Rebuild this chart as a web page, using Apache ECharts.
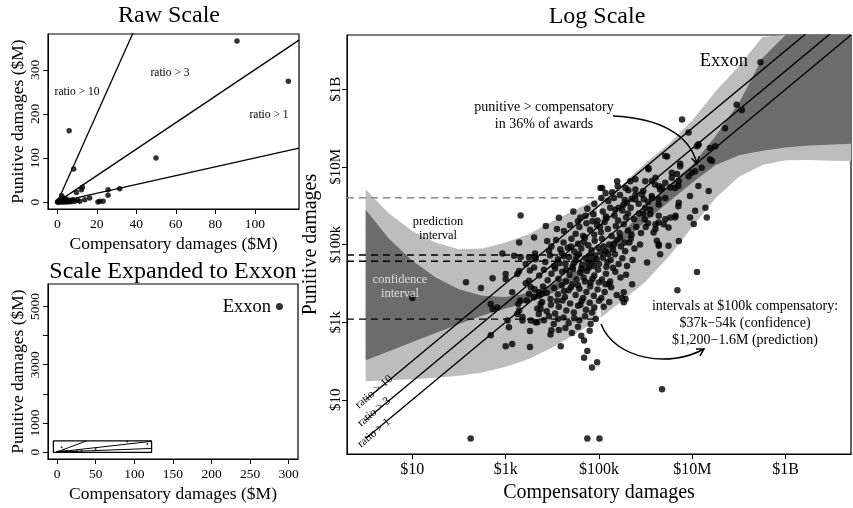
<!DOCTYPE html>
<html lang="en">
<head>
<meta charset="UTF-8">
<title>Punitive vs compensatory damages</title>
<script src="https://cdn.jsdelivr.net/npm/echarts@6/dist/echarts.min.js"></script>
<style>
  html, body { margin: 0; padding: 0; background: #fff; }
  #main { width: 853px; height: 508px; }
</style>
</head>
<body>
<div id="main"></div>
<script>
// raw scale awards: [compensatory $M, punitive $M]
var rawAwards = [
  [0.1, 0.2], [0.3, 1.2], [0.5, 0.4], [0.8, 2.5], [1.0, 0.8], [1.2, 5], [1.5, 1.5], [1.8, 0.3],
  [2.0, 3.5], [2.2, 14.7], [2.4, 1], [2.8, 6], [2.9, 9.5], [3.2, 0.6], [3.5, 2.5], [3.8, 4.5],
  [4.2, 1.2], [4.5, 7], [5, 0.5], [5.3, 3], [5.8, 1.5], [6.3, 4.1], [6.8, 0.8], [7.2, 2.2],
  [7.8, 5.5], [8.8, 1.8], [9.7, 22], [10.3, 4.5], [11.4, 1.8], [12.2, 28.3], [12.7, 33.5],
  [13.9, 5.7], [16.4, 9.5], [20.6, 0.3], [21.5, 1.8], [23.2, 1.8], [25.7, 15.4], [25.7, 28.3],
  [31.6, 30.6], [8.3, 75], [6, 162], [50, 100], [91, 365], [117, 274]
];
var exxon = [288, 5000]; // $M

// log scale awards: [log10 compensatory $, log10 punitive $]
var logAwards = [
  [8.46, 9.70],
  [2.25, 0.0], [4.75, 0.0], [5.01, 0.0], [6.35, 1.27], [7.1, 4.29], [6.68, 3.82],
  [5.53, 3.51], [5.57, 3.6], [5.49, 3.62], [5.14, 3.98], [5.21, 3.98], [5.53, 3.77], [5.71, 3.98],
  [4.68, 2.53], [4.75, 2.26], [4.68, 2.08], [4.96, 1.97], [4.85, 1.83],
  [3.0, 2.38], [3.14, 2.44], [3.52, 2.36], [4.18, 2.38], [3.52, 2.77], [3.98, 2.79], [4.14, 2.8],
  [3.96, 2.68], [3.07, 2.87], [2.68, 2.66], [1.0, 3.62],
  [2.15, 4.03], [2.47, 3.88], [2.72, 4.13], [3.0, 4.24], [3.0, 4.11], [3.32, 5.75],
  [2.93, 4.77], [3.18, 4.71], [3.32, 4.67], [3.5, 4.67], [3.63, 4.77], [3.63, 4.67],
  [2.68, 3.47], [2.72, 3.34], [2.82, 3.38],
  [3.04, 3.04], [3.25, 3.21], [3.29, 3.3], [3.36, 3.04], [3.36, 3.13], [3.54, 3.04], [3.64, 3.0],
  [3.68, 3.0], [3.71, 3.21], [3.75, 3.34],
  [3.27, 3.47], [3.31, 3.56], [3.45, 3.56], [3.5, 3.73], [3.54, 3.9], [3.61, 3.64], [3.71, 3.77],
  [3.75, 3.47], [3.78, 3.73],
  [3.14, 3.77], [3.25, 4.24], [3.43, 4.5], [3.43, 4.0], [3.52, 4.33],
  [3.86, 5.48], [4.14, 5.69], [3.61, 5.18], [3.29, 5.05], [3.29, 4.32], [3.5, 4.07], [3.64, 4.62],
  [3.89, 5.09], [3.93, 4.84], [3.61, 4.41],
  [6.78, 8.22], [6.92, 7.89], [7.7, 8.0], [7.95, 8.6], [8.06, 8.47], [7.1, 7.53], [7.13, 7.58],
  [7.38, 7.49], [7.49, 7.53], [6.42, 7.28], [6.74, 7.02], [7.38, 7.19], [7.2, 6.98], [7.06, 6.89],
  [6.99, 6.85], [6.92, 6.76], [7.13, 6.51], [7.35, 6.38], [6.95, 6.25], [6.7, 5.99], [7.06, 5.87],
  [7.31, 5.7], [6.95, 5.7], [7.03, 5.53], [6.63, 5.7], [6.42, 5.65], [6.28, 5.57], [6.49, 5.44],
  [6.21, 5.4], [6.17, 5.31], [6.24, 5.1], [6.28, 4.97], [6.03, 4.54], [6.06, 6.94], [6.56, 6.85],
  [6.7, 6.51], [6.13, 6.64], [6.28, 6.51], [6.35, 6.47], [6.53, 6.47], [5.96, 6.17], [6.13, 6.25],
  [6.28, 6.17], [6.46, 7.27], [6.06, 6.97], [7.13, 7.57], [7.42, 7.15], [6.63, 6.46], [6.42, 6.59],
  [6.71, 6.63], [6.56, 6.72], [6.21, 6.72], [6.31, 6.42], [5.99, 6.63], [5.78, 6.68], [5.39, 6.63],
  [5.57, 6.46], [5.78, 6.42], [5.92, 6.29], [6.14, 6.2], [6.28, 6.03], [6.42, 6.2], [5.99, 5.95],
  [6.1, 5.78], [6.28, 5.74], [6.39, 5.52], [6.21, 5.52], [5.78, 6.16], [5.6, 6.08], [5.42, 5.95],
  [5.14, 6.33], [5.07, 6.46], [5.32, 6.2], [4.71, 5.74], [6.28, 5.0], [6.49, 4.97], [6.71, 5.09],
  [6.31, 4.75], [5.03, 6.46], [5.67, 6.63], [6.2, 6.55], [6.74, 7.08], [6.67, 6.82], [7.28, 5.95],
  [6.71, 6.08], [6.64, 5.74], [6.53, 5.7],
  [4.9, 6.05], [5.05, 6.2], [5.2, 6.12], [5.28, 6.35], [5.45, 6.28], [5.52, 6.02], [5.63, 6.4],
  [5.7, 6.18], [5.85, 6.05], [5.95, 6.38], [6.05, 6.1], [5.4, 6.5],
  [4.6, 5.7], [4.75, 5.92], [4.88, 5.78], [4.97, 5.62], [5.08, 5.85], [5.16, 5.68], [5.24, 5.95],
  [5.33, 5.75], [5.41, 5.62], [5.5, 5.88], [5.58, 5.7], [5.68, 5.95], [5.75, 5.66], [5.86, 5.8],
  [5.98, 5.65], [6.1, 5.9], [4.45, 5.85],
  [4.25, 5.35], [4.38, 5.5], [4.5, 5.28], [4.58, 5.45], [4.66, 5.22], [4.73, 5.55], [4.81, 5.38],
  [4.9, 5.25], [4.96, 5.5], [5.04, 5.32], [5.12, 5.58], [5.19, 5.4], [5.27, 5.22], [5.36, 5.48],
  [5.44, 5.3], [5.53, 5.52], [5.62, 5.36], [5.7, 5.25], [5.8, 5.45], [5.9, 5.3], [6.0, 5.45], [4.1, 5.4],
  [3.98, 4.95], [4.08, 5.12], [4.17, 4.88], [4.24, 5.05], [4.33, 4.92], [4.41, 5.15], [4.47, 4.82],
  [4.55, 5.02], [4.62, 4.9], [4.7, 5.18], [4.77, 4.98], [4.84, 4.85], [4.91, 5.1], [4.99, 4.92],
  [5.06, 5.15], [5.14, 4.82], [5.22, 5.0], [5.3, 4.88], [5.38, 5.12], [5.47, 4.95], [5.56, 4.83],
  [5.65, 5.05], [5.76, 4.9], [5.88, 5.0],
  [3.85, 4.55], [3.95, 4.72], [4.04, 4.45], [4.12, 4.62], [4.2, 4.78], [4.28, 4.5], [4.36, 4.68],
  [4.43, 4.42], [4.5, 4.6], [4.57, 4.75], [4.64, 4.48], [4.71, 4.65], [4.78, 4.4], [4.85, 4.58],
  [4.92, 4.72], [5.0, 4.5], [5.08, 4.66], [5.16, 4.43], [5.25, 4.6], [5.34, 4.75], [5.42, 4.5],
  [5.5, 4.65], [5.6, 4.45], [5.72, 4.6],
  [3.72, 4.2], [3.82, 4.35], [3.9, 4.08], [3.98, 4.25], [4.06, 4.38], [4.13, 4.12], [4.21, 4.3],
  [4.29, 4.05], [4.37, 4.22], [4.44, 4.36], [4.52, 4.1], [4.6, 4.28], [4.67, 4.15], [4.74, 4.32],
  [4.82, 4.02], [4.9, 4.2], [4.98, 4.35], [5.06, 4.1], [5.15, 4.25], [5.24, 4.05], [5.35, 4.3],
  [5.46, 4.15], [5.58, 4.22],
  [3.62, 3.85], [3.72, 3.68], [3.8, 3.92], [3.88, 3.75], [3.96, 3.6], [4.04, 3.88], [4.12, 3.72],
  [4.2, 3.95], [4.27, 3.65], [4.35, 3.82], [4.43, 3.98], [4.5, 3.7], [4.58, 3.86], [4.66, 3.62],
  [4.73, 3.78], [4.81, 3.92], [4.89, 3.68], [4.97, 3.84], [5.05, 3.62], [5.12, 3.78], [5.26, 3.9],
  [5.38, 3.7],
  [3.68, 3.35], [3.78, 3.52], [3.88, 3.28], [3.97, 3.45], [4.06, 3.22], [4.14, 3.4], [4.22, 3.56],
  [4.3, 3.3], [4.38, 3.48], [4.46, 3.25], [4.55, 3.42], [4.63, 3.55], [4.72, 3.32], [4.8, 3.5],
  [4.9, 3.38], [5.0, 3.55], [5.1, 3.4], [5.22, 3.52],
  [3.82, 3.05], [3.93, 3.15], [4.03, 2.95], [4.12, 3.08], [4.24, 3.12], [4.35, 2.98], [4.47, 3.1],
  [4.58, 3.05], [4.7, 3.15], [4.82, 2.95], [4.93, 3.08],
  [4.28, 2.85], [4.42, 2.72], [4.55, 2.88], [4.8, 2.78], [4.62, 2.65],
  [4.4, 4.95], [4.52, 4.7], [4.68, 5.05], [4.8, 4.72], [4.95, 4.62], [5.1, 4.95], [5.2, 4.75],
  [5.32, 5.02], [5.45, 5.18], [5.55, 5.05], [4.3, 4.35], [4.46, 4.52], [4.62, 4.38], [4.76, 4.55],
  [4.88, 4.45], [5.03, 4.8], [5.18, 4.55], [5.3, 4.4], [4.15, 4.52], [4.25, 4.7], [4.55, 3.95],
  [4.7, 4.05], [4.86, 4.12], [5.0, 4.02], [4.4, 3.9], [4.25, 3.8], [4.1, 3.55], [4.6, 3.45],
  [4.85, 3.25], [5.15, 5.72], [5.35, 5.9], [5.62, 5.8], [5.02, 5.45], [4.86, 5.6], [4.55, 5.6],
  [5.78, 6.28], [5.55, 6.15], [5.95, 5.8], [6.05, 5.55], [5.68, 5.15]
];

// fitted bands, log10 $, read at these log10 compensatory values
var bandX     = [0, 0.5, 1, 1.5, 2, 2.5, 3, 3.5, 4, 4.5, 5, 5.5, 6, 6.5, 7, 7.5, 8, 8.5, 9, 9.5, 10, 10.4];
var predLow   = [1.48, 1.5, 1.53, 1.57, 1.62, 1.7, 1.85, 2.05, 2.35, 2.7, 3.08, 3.55, 4.05, 4.7, 5.45, 6.2, 6.75, 7.05, 7.17, 7.18, 7.16, 7.15];
var predHigh  = [6.42, 5.8, 5.35, 5.05, 4.88, 4.9, 5.05, 5.27, 5.6, 5.9, 6.2, 6.55, 7.1, 7.6, 8.2, 8.95, 9.6, 10.35, 11, 11.6, 12.2, 12.6];
var confLow   = [2.02, 2.25, 2.49, 2.72, 2.95, 3.17, 3.35, 3.52, 3.75, 4.1, 4.57, 5.05, 5.6, 6.1, 6.6, 7.05, 7.3, 7.42, 7.5, 7.55, 7.58, 7.6];
var confHigh  = [5.9, 5.15, 4.58, 4.15, 3.85, 3.68, 3.65, 3.75, 3.98, 4.3, 4.73, 5.3, 5.95, 6.55, 7.05, 7.8, 8.65, 9.8, 10.5, 11, 11.5, 12];

var ratios = [1, 3, 10];
var ratioNames = ['ratio > 1', 'ratio > 3', 'ratio > 10'];

// intervals at $100k compensatory
var compAt = 100000;
var confInt = [37000, 54000];
var predInt = [1200, 1600000];

var logTicks = [1, 3, 5, 7, 9];
var logTickLabels = ['$10', '$1k', '$100k', '$10M', '$1B'];
var rawXTicks = [0, 20, 40, 60, 80, 100];
var rawYTicks = [0, 100, 200, 300];
var bigXTicks = [0, 50, 100, 150, 200, 250, 300];
var bigYTicks = [0, 1000, 2000, 3000, 4000, 5000];
var bigYLabels = [0, 1000, 3000, 5000];

var FONT = '"Liberation Serif", "DejaVu Serif", serif';
var rawRange = { x: [-4.7, 122.4], y: [-15.5, 381] };
var bigRange = { x: [-11.7, 312], y: [-240, 5770] };
var logRange = { x: [-0.4, 10.4], y: [-0.4, 10.4] };

var chart = echarts.init(document.getElementById('main'));

function plainFmt(v) { return String(v); }

function valAxis(grid, range, ticks, labels, size, name, gap, isY, fmt, margin) {
  return {
    type: 'value', gridIndex: grid, min: range[0], max: range[1],
    name: name, nameLocation: 'middle', nameGap: gap,
    nameTextStyle: { fontFamily: FONT, fontSize: grid === 2 ? 20 : 17.5, color: '#000' },
    axisLine: { show: true, onZero: false, lineStyle: { color: '#000', width: 1 } },
    axisTick: { show: true, length: 5, customValues: ticks, lineStyle: { color: '#000' } },
    axisLabel: {
      customValues: labels, rotate: isY ? 90 : 0, margin: margin || (isY ? 6 : 8),
      fontFamily: FONT, fontSize: size, color: '#000', formatter: fmt || plainFmt
    },
    splitLine: { show: false }
  };
}

function logFmt(v) {
  var i = logTicks.indexOf(v);
  return i < 0 ? '' : logTickLabels[i];
}

function log10(v) { return Math.log(v) / Math.LN10; }

function band(lo, hi, color, z) {
  return {
    type: 'custom', xAxisIndex: 2, yAxisIndex: 2, clip: true, silent: true, z: z,
    data: [[0, 0]],
    renderItem: function (params, api) {
      var pts = [];
      for (var i = 0; i < bandX.length; i++) {
        pts.push(api.coord([bandX[i], Math.min(hi[i], logRange.y[1])]));
      }
      for (var j = bandX.length - 1; j >= 0; j--) {
        pts.push(api.coord([bandX[j], Math.min(lo[j], logRange.y[1])]));
      }
      return { type: 'polygon', shape: { points: pts }, style: { fill: color } };
    }
  };
}

function lineSeries(xi, data, style, z) {
  return {
    type: 'line', xAxisIndex: xi, yAxisIndex: xi, data: data, symbol: 'none',
    clip: true, silent: true, z: z || 3, lineStyle: style, animation: false
  };
}

var series = [];

// raw scale panel
ratios.forEach(function (r) {
  series.push(lineSeries(0, [[0, 0], [rawRange.x[1], rawRange.x[1] * r]], { color: '#000', width: 1.3 }));
});
series.push({
  type: 'scatter', xAxisIndex: 0, yAxisIndex: 0, data: rawAwards,
  symbolSize: 5.5, itemStyle: { color: '#000' }, z: 4
});

// expanded panel: box of the raw panel plus its contents
series.push(lineSeries(1, [
  [rawRange.x[0], rawRange.y[0]], [rawRange.x[1], rawRange.y[0]],
  [rawRange.x[1], rawRange.y[1]], [rawRange.x[0], rawRange.y[1]], [rawRange.x[0], rawRange.y[0]]
], { color: '#000', width: 1.3 }));
ratios.forEach(function (r) {
  var xe = Math.min(rawRange.x[1], rawRange.y[1] / r);
  series.push(lineSeries(1, [[0, 0], [xe, xe * r]], { color: '#000', width: 1 }));
});
series.push({
  type: 'scatter', xAxisIndex: 1, yAxisIndex: 1, data: rawAwards,
  symbolSize: 2, itemStyle: { color: '#000' }, z: 4
});
series.push({
  type: 'scatter', xAxisIndex: 1, yAxisIndex: 1, data: [exxon],
  symbolSize: 7, itemStyle: { color: '#000' }, z: 4
});

// log scale panel
series.push(band(predLow, predHigh, '#bdbdbd', 1));
series.push(band(confLow, confHigh, '#6c6c6c', 1));
var lc = log10(compAt);
[[log10(predInt[1]), '#8a8a8a'], [log10(confInt[1]), '#000'], [log10(confInt[0]), '#000'], [log10(predInt[0]), '#000']]
  .forEach(function (d) {
    series.push(lineSeries(2, [[logRange.x[0], d[0]], [lc, d[0]]], { color: d[1], width: 1.4, type: [7, 5] }, 2));
  });
series.push(lineSeries(2, [[lc, log10(predInt[0])], [lc, log10(predInt[1])]],
  { color: 'rgba(238,238,238,0.85)', width: 4 }, 2));
series.push({
  type: 'scatter', xAxisIndex: 2, yAxisIndex: 2, data: logAwards,
  symbolSize: 6.5, itemStyle: { color: '#000' }, z: 3, clip: true
});
ratios.forEach(function (r) {
  var lr = log10(r);
  series.push(lineSeries(2, [[0, lr], [logRange.x[1], logRange.x[1] + lr]], { color: '#000', width: 1.4 }, 4));
});

function txt(x, y, s, size, opts) {
  opts = opts || {};
  return {
    type: 'text', x: x, y: y, z: 100, rotation: opts.rot || 0,
    style: {
      text: s, fontFamily: FONT, fontSize: size, fill: opts.color || '#000',
      align: opts.align || 'center', verticalAlign: 'middle'
    }
  };
}

function arrow(p0, c1, c2, p3) {
  var dx = p3[0] - c2[0], dy = p3[1] - c2[1];
  var len = Math.sqrt(dx * dx + dy * dy);
  var ux = -dx / len, uy = -dy / len, a = Math.PI / 6, L = 8;
  var w1 = [p3[0] + L * (ux * Math.cos(a) - uy * Math.sin(a)), p3[1] + L * (ux * Math.sin(a) + uy * Math.cos(a))];
  var w2 = [p3[0] + L * (ux * Math.cos(a) + uy * Math.sin(a)), p3[1] + L * (-ux * Math.sin(a) + uy * Math.cos(a))];
  return [
    { type: 'bezierCurve', z: 100, shape: { x1: p0[0], y1: p0[1], cpx1: c1[0], cpy1: c1[1], cpx2: c2[0], cpy2: c2[1], x2: p3[0], y2: p3[1] },
      style: { stroke: '#000', lineWidth: 1.5, fill: null } },
    { type: 'polyline', z: 100, shape: { points: [w1, p3, w2] }, style: { stroke: '#000', lineWidth: 1.5, fill: null } }
  ];
}

var rot = 40 * Math.PI / 180;
var graphics = [
  txt(169, 16, 'Raw Scale', 24),
  txt(173, 272, 'Scale Expanded to Exxon', 24),
  txt(597, 17, 'Log Scale', 24),
  txt(77, 92, 'ratio > 10', 11.5),
  txt(170, 73, 'ratio > 3', 11.5),
  txt(269, 115, 'ratio > 1', 11.5),
  txt(271, 307, 'Exxon', 18.5, { align: 'right' }),
  txt(748, 61, 'Exxon', 18.5, { align: 'right' }),
  txt(544, 107, 'punitive > compensatory', 14),
  txt(544, 124, 'in 36% of awards', 14),
  txt(745, 306, 'intervals at $100k compensatory:', 14),
  txt(745, 323, '$37k\u221254k (confidence)', 14),
  txt(745, 340, '$1,200\u22121.6M (prediction)', 14),
  txt(438, 222, 'prediction', 12.5),
  txt(438, 236, 'interval', 12.5),
  txt(400, 280, 'confidence', 12.5, { color: '#dedede' }),
  txt(400, 294, 'interval', 12.5, { color: '#dedede' }),
  txt(374, 433, ratioNames[0], 11.5, { rot: rot }),
  txt(374, 412, ratioNames[1], 11.5, { rot: rot }),
  txt(374, 392, ratioNames[2], 11.5, { rot: rot })
].concat(arrow([613, 116], [660, 118], [690, 135], [697, 164]))
 .concat(arrow([601, 324], [615, 360], [670, 368], [704, 349]));

var option = {
  animation: false,
  backgroundColor: '#fff',
  grid: [
    { left: 48, top: 34, width: 251, height: 175, show: true, borderColor: '#000', borderWidth: 1.2 },
    { left: 48, top: 284, width: 250, height: 175, show: true, borderColor: '#000', borderWidth: 1.2 },
    { left: 347, top: 35, width: 504, height: 424, show: true, borderColor: '#000', borderWidth: 1.2 }
  ],
  xAxis: [
    valAxis(0, rawRange.x, rawXTicks, rawXTicks, 13.5, 'Compensatory damages ($M)', 26, false),
    valAxis(1, bigRange.x, bigXTicks, bigXTicks, 13.5, 'Compensatory damages ($M)', 26, false),
    valAxis(2, logRange.x, logTicks, logTicks, 16, 'Compensatory damages', 27, false, logFmt)
  ],
  yAxis: [
    valAxis(0, rawRange.y, rawYTicks, rawYTicks, 13.5, 'Punitive damages ($M)', 21, true),
    valAxis(1, bigRange.y, bigYTicks, bigYLabels, 13.5, 'Punitive damages ($M)', 21, true),
    valAxis(2, logRange.y, logTicks, logTicks, 15, 'Punitive damages', 18, true, logFmt, 3)
  ],
  series: series,
  graphic: graphics
};

chart.setOption(option);
</script>
</body>
</html>
